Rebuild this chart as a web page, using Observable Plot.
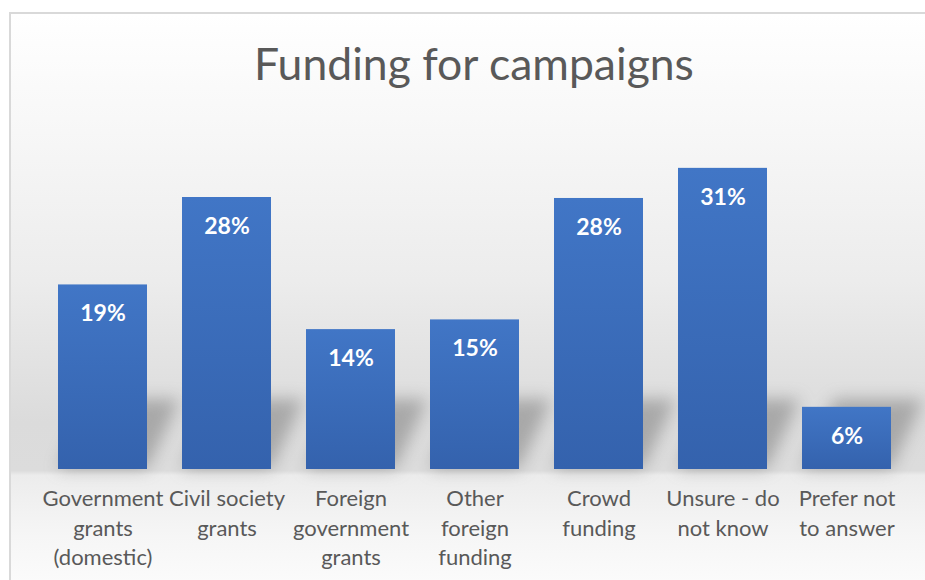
<!DOCTYPE html>
<html>
<head>
<meta charset="utf-8">
<script src="https://cdn.jsdelivr.net/npm/d3@7"></script>
<script src="https://cdn.jsdelivr.net/npm/@observablehq/plot@0.6"></script>
<style>
  html, body { margin: 0; padding: 0; }
  body { width: 925px; height: 580px; overflow: hidden; background: #ffffff; position: relative; font-family: Lato, "Open Sans", sans-serif; }
  #frame {
    position: absolute; left: 9px; top: 12px; width: 1000px; height: 568px;
    border-top: 2px solid #d9d9d9; border-left: 2px solid #d9d9d9;
    background: linear-gradient(to bottom,
      #ffffff 0%, #f7f7f7 20.8%, #ececec 47%, #dbdbdb 71.8%, #dcdcdc 80.4%,
      #ececec 81.2%, #f6f6f6 92%, #fbfbfb 100%);
  }
  #title {
    position: absolute; left: 0; width: 948px; top: 41px; text-align: center;
    font-family: Lato, sans-serif; font-size: 44.5px; line-height: 1; color: #595959; font-weight: 400;
  }
  #chart { position: absolute; left: 0; top: 100px; }
</style>
</head>
<body>
<div id="frame"></div>
<div id="title">Funding for campaigns</div>
<div id="chart"></div>
<script>
const categories = [
  "Government grants (domestic)",
  "Civil society grants",
  "Foreign government grants",
  "Other foreign funding",
  "Crowd funding",
  "Unsure - do not know",
  "Prefer not to answer"
];
const tickLabels = [
  "Government\ngrants\n(domestic)",
  "Civil society\ngrants",
  "Foreign\ngovernment\ngrants",
  "Other\nforeign\nfunding",
  "Crowd\nfunding",
  "Unsure - do\nnot know",
  "Prefer not\nto answer"
];
const values = [0.19, 0.28, 0.144, 0.154, 0.279, 0.31, 0.064];

const data = categories.map((c, i) => ({category: c, value: values[i], tick: tickLabels[i]}));
const SHADOW_DEPTH = 0.072;

const defsMark = () => {
  const defs = d3.create("svg:defs");
  const g = defs.append("linearGradient").attr("id", "barGrad")
    .attr("x1", 0).attr("y1", 0).attr("x2", 0).attr("y2", 1);
  g.append("stop").attr("offset", "0%").attr("stop-color", "#4176c6");
  g.append("stop").attr("offset", "100%").attr("stop-color", "#3462ad");
  return defs.node();
};

const chart = Plot.plot({
  width: 925,
  height: 480,
  marginLeft: 39.3,
  marginRight: 15.4,
  marginTop: 29,
  marginBottom: 111,
  style: {background: "transparent", overflow: "visible", fontFamily: "Lato, sans-serif"},
  x: {type: "band", domain: categories, paddingInner: 0.2857, paddingOuter: 0.1429, align: 0.5, axis: null},
  y: {domain: [0, 0.35], axis: null},
  marks: [
    defsMark,
    Plot.barY(data, {x: "category", y1: 0, y2: () => SHADOW_DEPTH, fill: "#6a6a6a", fillOpacity: 0.45, ariaDescription: "shadow"}),
    Plot.barY(data, {x: "category", y: "value", fill: "url(#barGrad)"}),
    Plot.text(data, {
      x: "category", y: "value", text: d => d3.format(".0%")(d.value),
      dy: 29, lineAnchor: "middle", fill: "white", fontWeight: "bold", fontSize: 23
    }),
    Plot.text(data, {
      x: "category", frameAnchor: "bottom", text: "tick",
      dy: 16, lineAnchor: "top", lineHeight: 1.34, fill: "#595959", fontSize: 22
    })
  ]
});

d3.select(chart).select('g[aria-description="shadow"]')
  .style("filter", "blur(8px)")
  .selectAll("rect")
  .style("transform-box", "fill-box")
  .style("transform-origin", "50% 100%")
  .style("transform", "skewX(-25deg)");

document.getElementById("chart").appendChild(chart);
</script>
</body>
</html>
